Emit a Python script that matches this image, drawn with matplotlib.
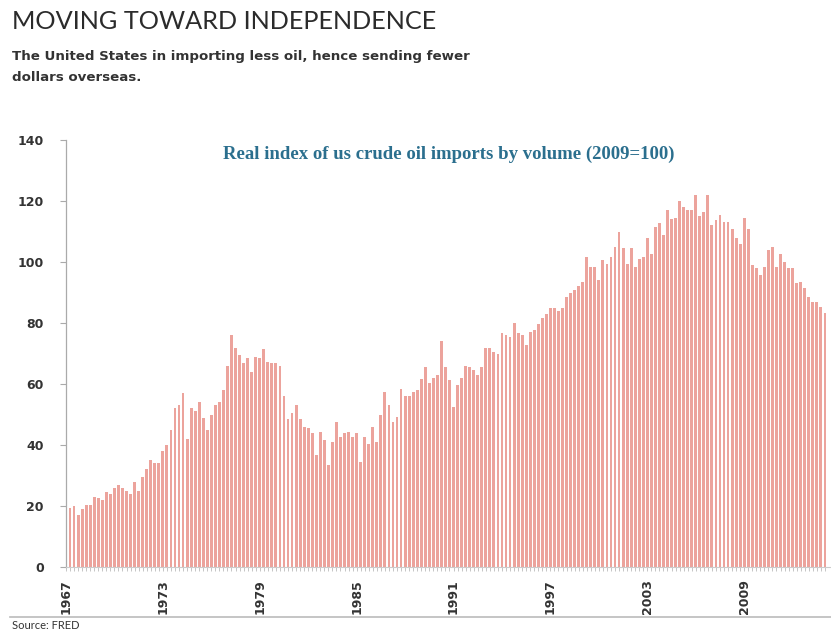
import matplotlib
matplotlib.use("Agg")
import matplotlib.pyplot as plt
import numpy as np

# quarterly index values, 1967Q1 .. 2013Q4
values = [
    19.5, 20, 17, 19, 20.5, 20.5, 23, 22.5, 22, 24.5,
    24, 26, 27, 26, 25, 24, 28, 25, 29.5, 32,
    35, 34, 34, 38, 40, 45, 52, 53, 57, 42,
    52, 51, 54, 49, 45, 50, 53, 54, 58, 66,
    76, 71.7, 69.5, 66.8, 68.4, 64, 69, 68.4, 71.4, 67.3,
    66.8, 67, 66, 56, 48.7, 50.4, 53, 48.7, 46, 45.5,
    43.8, 36.7, 44.4, 41.6, 33.4, 41, 47.5, 42.7, 43.8, 44.4,
    42.7, 43.8, 34.5, 42.7, 40.5, 46, 41, 50, 57.5, 53,
    47.7, 49.3, 58.5, 56, 56, 57.5, 58, 61.5, 65.6, 60.3,
    62, 63, 74, 65.6, 61.4, 52.6, 59.7, 61.9, 66, 65.6,
    64.6, 63, 65.6, 71.7, 71.7, 70.6, 70, 76.6, 76, 75.5,
    80, 76.6, 76, 72.8, 77, 77.7, 79.8, 81.5, 83, 84.8,
    84.8, 84, 85, 88.6, 90, 91, 92, 93.6, 101.7, 98.5,
    98.5, 94, 100.6, 99.5, 101.7, 105, 110, 104.5, 99.5, 104.5,
    98.5, 101, 101.5, 107.8, 102.8, 111.6, 112.9, 108.9, 117, 114,
    114.3, 120, 118, 117, 117, 122, 115, 116.5, 122, 112,
    113.8, 115.4, 113.2, 113.2, 111, 107.8, 106, 114.6, 111, 99,
    98, 95.7, 98.5, 104, 104.8, 98.5, 102.8, 100, 98, 98,
    93, 93.5, 91.4, 88.6, 87, 87, 85.4, 83.2,
]
first_year = 1967
tick_years = [1967, 1973, 1979, 1985, 1991, 1997, 2003, 2009]
y_ticks = [0, 20, 40, 60, 80, 100, 120, 140]

title = "MOVING TOWARD INDEPENDENCE"
subtitle = "The United States in importing less oil, hence sending fewer\ndollars overseas."
chart_title = "Real index of us crude oil imports by volume (2009=100)"
source = "Source: FRED"

fig = plt.figure(figsize=(8.31, 6.31), dpi=100)
ax = fig.add_axes([0.0794, 0.1014, 0.9206, 0.6766])

x = np.arange(len(values))
ax.bar(x, values, width=0.7, color="#eca39c", linewidth=0)

ax.set_xlim(-0.4, 188.5)
ax.set_ylim(0, 140)

ax.set_yticks(y_ticks)
ax.set_yticklabels([str(v) for v in y_ticks], fontfamily="DejaVu Sans",
                   fontweight="bold", fontsize=9, color="#333333")
ax.set_xticks([(yr - first_year) * 4 - 1 for yr in tick_years])
ax.set_xticklabels([str(yr) for yr in tick_years], rotation=90, fontfamily="DejaVu Sans",
                   fontweight="bold", fontsize=9, color="#333333")
ax.set_xticks(x, minor=True)
ax.tick_params(axis="x", which="both", length=3, width=0.6, color="#bbbbbb", pad=6)
ax.tick_params(axis="y", length=4, width=0.8, color="#aaaaaa", pad=12)

for side in ["top", "right"]:
    ax.spines[side].set_visible(False)
ax.spines["left"].set_color("#aaaaaa")
ax.spines["bottom"].set_color("#cccccc")
ax.spines["left"].set_linewidth(0.9)

ax.text(0.5, 0.988, chart_title, transform=ax.transAxes, ha="center", va="top",
        fontfamily="Liberation Serif", fontweight="bold", fontsize=13.5, color="#2b6f8e")

fig.text(0.0145, 0.966, title, ha="left", va="center", fontfamily="Lato",
         fontsize=18.2, color="#2b2b2b")
fig.text(0.0145, 0.92, subtitle, ha="left", va="top", fontfamily="DejaVu Sans",
         fontweight="bold", fontsize=9.6, color="#333333", linespacing=1.75)

fig.add_artist(plt.Line2D([0.012, 1.0], [0.022, 0.022], transform=fig.transFigure,
                          color="#bbbbbb", linewidth=1.2))
fig.text(0.014, 0.0, source, ha="left", va="bottom", fontfamily="Lato",
         fontsize=8, color="#333333")

fig.savefig("out.png", dpi=100)
